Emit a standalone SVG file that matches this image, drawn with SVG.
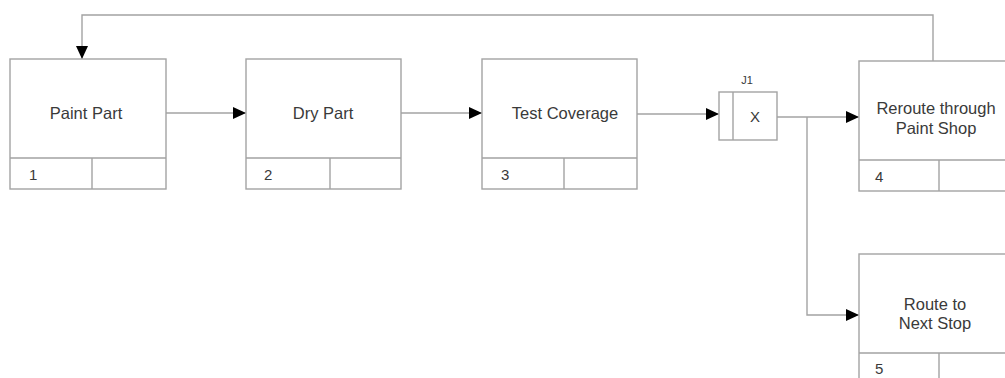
<svg xmlns="http://www.w3.org/2000/svg" width="1005" height="378" viewBox="0 0 1005 378">
<style>
.box{fill:#fff;stroke:#a3a3a3;stroke-width:1.4}
.ln{fill:none;stroke:#a3a3a3;stroke-width:1.4}
.t{font-family:"Liberation Sans",Arial,sans-serif;font-size:16.5px;fill:#3a3a3a;text-anchor:middle}
.n{font-family:"Liberation Sans",Arial,sans-serif;font-size:15px;fill:#3a3a3a}
.s{font-family:"Liberation Sans",Arial,sans-serif;font-size:11px;fill:#3a3a3a;text-anchor:middle}
</style>
<defs>
<marker id="ah" markerUnits="userSpaceOnUse" markerWidth="14" markerHeight="13" refX="13" refY="6" orient="auto">
<path d="M0,0 L13,6 L0,12 z" fill="#000"/>
</marker>
</defs>
<rect width="1005" height="378" fill="#fff"/>
<g id="connectors">
<path class="ln" d="M166,113 H246" marker-end="url(#ah)"/>
<path class="ln" d="M401,113 H482" marker-end="url(#ah)"/>
<path class="ln" d="M637,114 H719" marker-end="url(#ah)"/>
<path class="ln" d="M777,117 H859" marker-end="url(#ah)"/>
<path class="ln" d="M807,117 V315 H859" marker-end="url(#ah)"/>
<path class="ln" d="M933,61 V15 H82 V59" marker-end="url(#ah)"/>
</g>
<g id="node1">
<rect class="box" x="10" y="59" width="156" height="130"/>
<path class="ln" d="M10,158 H166 M92,158 V189"/>
<text class="t" x="86" y="119">Paint Part</text>
<text class="n" x="29" y="180">1</text>
</g>
<g id="node2">
<rect class="box" x="246" y="59" width="155" height="130"/>
<path class="ln" d="M246,158 H401 M330,158 V189"/>
<text class="t" x="323" y="119">Dry Part</text>
<text class="n" x="264" y="180">2</text>
</g>
<g id="node3">
<rect class="box" x="482" y="59" width="155" height="130"/>
<path class="ln" d="M482,158 H637 M564,158 V189"/>
<text class="t" x="565" y="119">Test Coverage</text>
<text class="n" x="501" y="180">3</text>
</g>
<g id="j1">
<rect class="box" x="719" y="92" width="58" height="48"/>
<path class="ln" d="M733,92 V140"/>
<text class="s" x="747" y="84">J1</text>
<text class="t" x="755" y="122" style="font-size:15px">X</text>
</g>
<g id="node4">
<rect class="box" x="859" y="61" width="156" height="130"/>
<path class="ln" d="M859,160 H1015 M939,160 V191"/>
<text class="t" x="936" y="114">Reroute through</text>
<text class="t" x="936" y="134">Paint Shop</text>
<text class="n" x="875" y="182">4</text>
</g>
<g id="node5">
<rect class="box" x="859" y="254" width="156" height="130"/>
<path class="ln" d="M859,353 H1015 M939,353 V384"/>
<text class="t" x="935" y="310">Route to</text>
<text class="t" x="935" y="329">Next Stop</text>
<text class="n" x="875" y="374">5</text>
</g>
</svg>
